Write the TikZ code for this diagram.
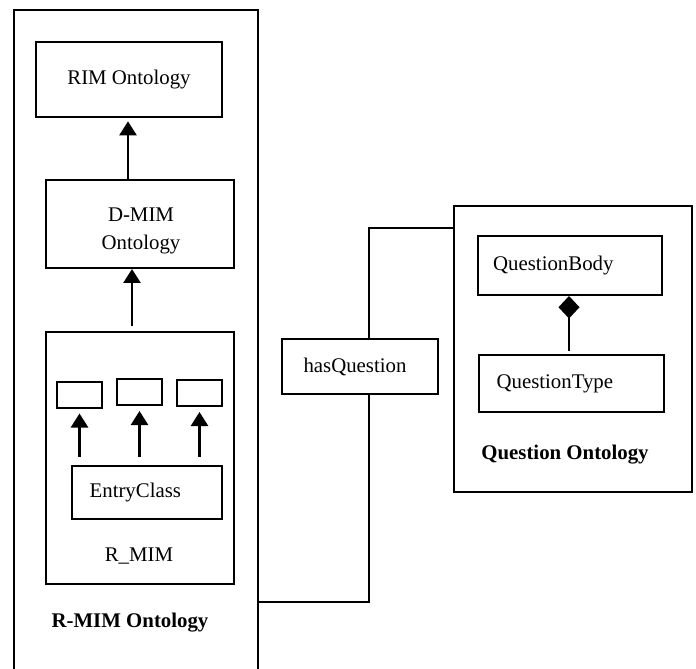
\documentclass[tikz,border=0pt]{standalone}
\usepackage{fontspec}
\setmainfont{Liberation Serif}
\usetikzlibrary{arrows.meta,positioning}

\begin{document}
\begin{tikzpicture}[
  x=0.6pt, y=-0.6pt,
  font=\fontsize{12.5}{15}\selectfont,
  boxsize/.style 2 args={minimum width=#1*0.6pt, minimum height=#2*0.6pt},
  umlbox/.style={draw, line width=1.2pt, inner sep=0pt, align=center},
  link/.style={line width=1.2pt},
  isa/.style={line width=1.5pt, -{Triangle[length=8.4pt,width=10.2pt]}},
  partof/.style={line width=1.2pt, -{Diamond[length=13.5pt,width=12.6pt]}}
]
\useasboundingbox (0,0) rectangle (696,669);
\clip (0,0) rectangle (696,669);

% R-MIM side
\node[umlbox, boxsize={244}{690}] (rmimouter) at (136,355) {};
\node[umlbox, boxsize={186}{75}] (rim) at (129,79.5) {RIM Ontology};
\node[umlbox, boxsize={188}{88}] (dmim) at (140,224) {};
\node[align=center, font=\fontsize{12.5}{17}\selectfont] (dmimtext) at (141,231) {D-MIM\\Ontology};
\node[umlbox, boxsize={188}{252}] (rmim) at (140,458) {};
\node[umlbox, boxsize={45}{26}] (cls1) at (79.5,394.5) {};
\node[umlbox, boxsize={45}{26}] (cls2) at (139.5,392) {};
\node[umlbox, boxsize={45}{26}] (cls3) at (199.5,393) {};
\node[umlbox, boxsize={150}{53}] (entry) at (147,492.5) {\hspace*{-14pt}EntryClass};
\node (rmimlabel) at (139,556) {R\_MIM};
\node[font=\fontsize{12.5}{15}\selectfont\bfseries] (rmimtitle) at (130,623) {R-MIM Ontology};

\draw[isa, shorten <=0pt, shorten >=2pt] (dmim.north -| 128,0) -- (rim.south -| 128,0);
\draw[isa, shorten <=3pt, shorten >=0pt] (rmim.north -| 132,0) -- (dmim.south -| 132,0);
\foreach \c in {cls1,cls2,cls3}
  \draw[isa, shorten <=5pt, shorten >=3pt] (entry.north -| \c) -- (\c.south);

% Question side
\node[umlbox, boxsize={238}{286}] (qonto) at (573,349) {};
\node[umlbox, boxsize={184}{59}] (qbody) at (570,265.5) {\hspace*{-20pt}QuestionBody};
\node[umlbox, boxsize={185}{57}] (qtype) at (571.5,383.5) {\hspace*{-20pt}QuestionType};
\node[font=\fontsize{12.5}{15}\selectfont\bfseries] (qtitle) at (565,455) {Question Ontology};
\draw[partof, shorten <=2pt] (qtype.north -| 569,0) -- (qbody.south -| 569,0);

% hasQuestion relation
\node[umlbox, boxsize={156}{55}] (hasq) at (360,366.5) {\hspace*{-6pt}hasQuestion};
\coordinate (qjoin) at (369,228);
\coordinate (rjoin) at (369,602);
\draw[link] (hasq.north -| qjoin) -- (qjoin) -- (qjoin -| qonto.west);
\draw[link] (hasq.south -| rjoin) -- (rjoin) -- (rjoin -| rmimouter.east);
\end{tikzpicture}
\end{document}
